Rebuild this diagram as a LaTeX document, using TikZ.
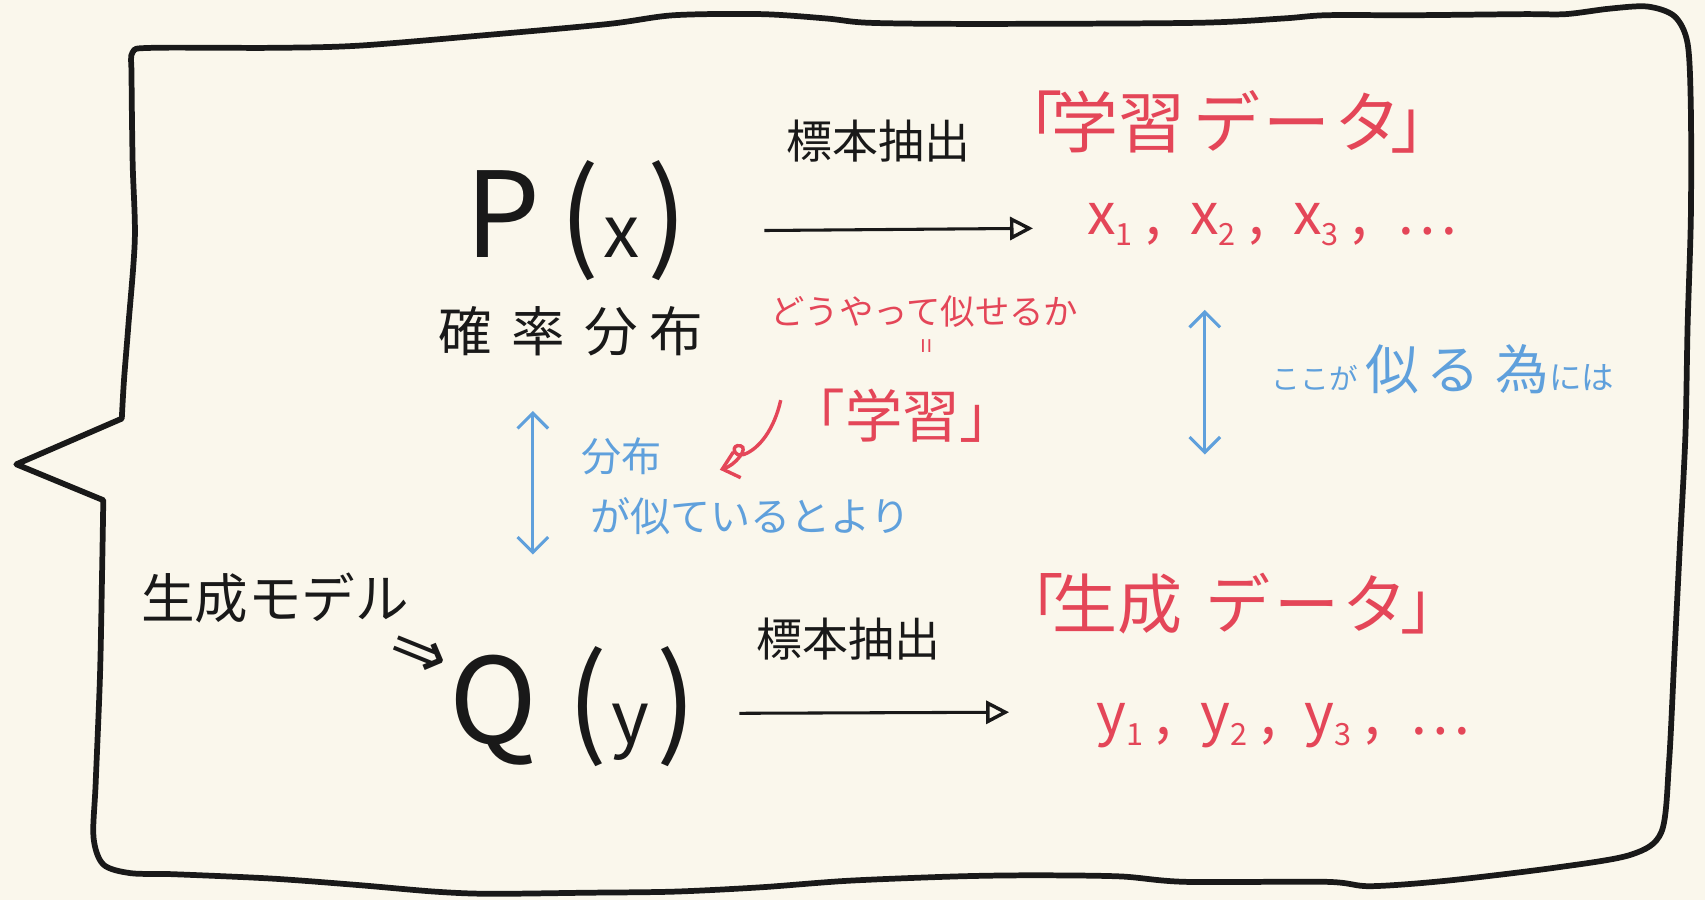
\documentclass[tikz,border=0pt]{standalone}
\usepackage{fontspec}
\setmainfont{Noto Sans CJK JP}
\newfontfamily\arrowfont{DejaVu Sans}
\usetikzlibrary{arrows.meta}
\definecolor{bg}{RGB}{250,247,236}
\definecolor{ink}{RGB}{25,25,25}
\definecolor{redink}{RGB}{228,70,88}
\definecolor{blueink}{RGB}{95,160,220}
\newcommand\fs[1]{\fontsize{#1}{#1}\selectfont}
\newcommand\subx[1]{\raisebox{-0.35ex}{\fs{8}#1}}
\begin{document}
\begin{tikzpicture}[x=0.01cm,y=-0.01cm,
  frame/.style={draw=ink,line width=1.5pt,line join=round},
  btxt/.style={inner sep=0pt,text=ink},
  rtxt/.style={inner sep=0pt,text=redink},
  ltxt/.style={inner sep=0pt,text=blueink},
  sample/.style={draw=ink,line width=0.8pt,-{Triangle[open,length=6pt,width=6pt,line width=0.9pt]}},
  simil/.style={draw=blueink,line width=0.8pt,{Straight Barb[length=4pt,width=8pt]}-{Straight Barb[length=4pt,width=8pt]}},
  curl/.style={draw=redink,line width=0.9pt,-{Straight Barb[length=4pt,width=7pt]}}]
\fill[bg] (0,0) rectangle (1568,828);
\useasboundingbox (0,0) rectangle (1568,828);
% speech bubble frame
\draw[frame] (15,427) -- (95,460) -- plot[smooth,tension=0.5] coordinates {(95,460) (94,520) (92,620) (88,720) (86,770) (95,795) (120,803) (160,804) (250,808) (330,814) (400,820) (450,822) (540,821) (620,820) (700,816) (780,810) (880,806) (950,805) (1030,806) (1090,811) (1220,811) (1260,815) (1330,810) (1430,798) (1500,786) (1528,765) (1535,700) (1540,600) (1545,500) (1550,400) (1552,300) (1555,200) (1555,100) (1552,40) (1540,15) (1515,6) (1480,8) (1440,13) (1400,13) (1300,14) (1220,14) (1180,17) (1100,21) (900,22) (800,21) (760,17) (700,13) (620,14) (560,22) (450,32) (330,42) (250,44) (140,44) (122,48) (121,70) (122,150) (124,220) (118,300) (114,350) (112,385)} -- cycle;
% upper row
\node[btxt] (px) at (530,203) {\fs{31}P\hspace{5pt}(\hspace{1pt}{\fs{19}x}\hspace{2pt})};
\node[btxt] (kakuritsu) at (525,305) {\fs{14}確\hspace{5pt}率\hspace{5pt}分\hspace{3pt}布};
\node[btxt] (hyo1) at (808,130) {\fs{12}標本抽出};
\node[rtxt] (gakushu) at (1128,112) {\fs{17.5}｢\hspace{-3pt}学習\hspace{2pt}デ\hspace{1pt}ー\hspace{1pt}タ\hspace{-3pt}｣};
\node[rtxt] (xs) at (1170,207) {\fs{15}x\subx{1} ,\enspace x\subx{2} ,\enspace x\subx{3} ,\enspace …};
\coordinate (a1s) at (703,212);
\coordinate (a1e) at (950,210);
\draw[sample] (a1s) -- (a1e);
% middle
\node[rtxt] (douyatte) at (850,287) {\fs{9}どうやって似せるか};
\node[rtxt,rotate=90] (eq) at (855,318) {\fs{7}=};
\node[rtxt] (gakushu2) at (830,382) {\fs{15}｢学習｣};
\coordinate (c1) at (718,368);
\coordinate (c2) at (662,432);
\draw[curl] (c1) .. controls (712,395) and (698,413) .. (684,418) .. controls (674,421) and (672,408) .. (681,410) .. controls (689,412) and (676,428) .. (c2);
\coordinate (b1t) at (490,378);
\coordinate (b1b) at (490,510);
\draw[simil] (b1t) -- (b1b);
\node[ltxt] (bunpu) at (572,420) {\fs{10.5}分布};
\node[ltxt] (niteiru) at (690,475) {\fs{10.5}が似ているとより};
\coordinate (b2t) at (1108,285);
\coordinate (b2b) at (1108,418);
\draw[simil] (b2t) -- (b2b);
\node[ltxt] (koko) at (1327,340) {\fs{7.5}ここが\hspace{2pt}\fs{14}似\hspace{2pt}る\hspace{4pt}為\fs{8.5}には};
% lower row
\node[btxt] (seisei) at (253,550) {\fs{14}生成モデル};
\node[btxt,rotate=-22] (imp) at (384,603) {\arrowfont\fs{18}⇒};
\node[btxt] (qy) at (527,650) {\fs{31}Q\hspace{8pt}(\hspace{1pt}{\fs{19}y}\hspace{2pt})};
\node[btxt] (hyo2) at (780,588) {\fs{12}標本抽出};
\node[rtxt] (seiseidata) at (1133,555) {\fs{17}｢\hspace{-3pt}生成\hspace{6pt}デ\hspace{1pt}ー\hspace{1pt}タ\hspace{-2pt}｣};
\node[rtxt] (ys) at (1180,667) {\fs{15}y\subx{1} ,\enspace y\subx{2} ,\enspace y\subx{3} ,\enspace …};
\coordinate (a2s) at (680,656);
\coordinate (a2e) at (928,655);
\draw[sample] (a2s) -- (a2e);
\end{tikzpicture}
\end{document}
